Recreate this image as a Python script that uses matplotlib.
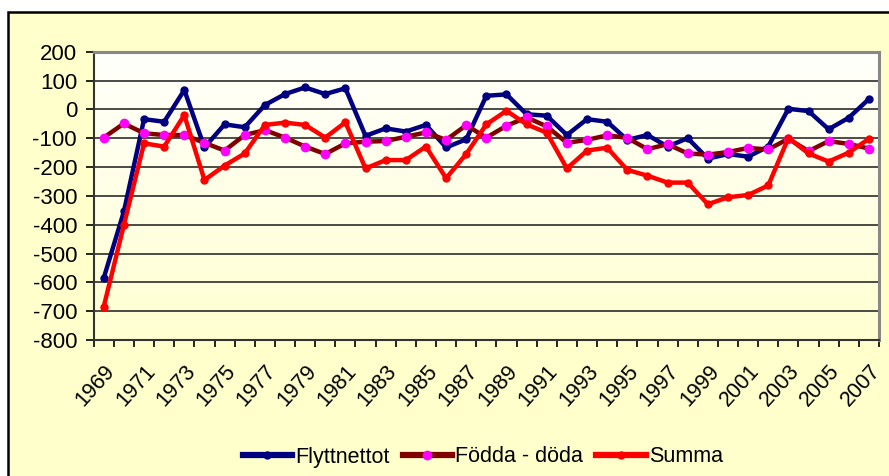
import numpy as np
import matplotlib
matplotlib.use("Agg")
import matplotlib.pyplot as plt
from matplotlib.patches import Rectangle

years = list(range(1969, 2008))
flyttnettot = [-585, -354, -34, -43, 67, -132, -52, -62, 15, 53,
               76, 53, 73, -92, -66, -77, -54, -132, -104, 47,
               52, -17, -22, -89, -34, -43, -106, -89, -129, -100,
               -171, -155, -164, -129, 2, -6, -69, -29, 36]
fodda_doda = [-98, -49, -83, -89, -89, -116, -143, -89, -72, -98,
              -129, -155, -118, -112, -110, -95, -80, -106, -55, -98,
              -57, -28, -59, -116, -106, -90, -99, -138, -121, -153,
              -157, -148, -134, -139, -102, -145, -110, -120, -136]
summa = [-684, -401, -118, -129, -20, -245, -195, -153, -54, -46,
         -54, -98, -45, -205, -176, -176, -129, -239, -155, -52,
         -5, -52, -81, -205, -143, -133, -210, -230, -254, -254,
         -329, -305, -297, -264, -99, -153, -181, -150, -102]
series_names = ["Flyttnettot", "Födda - döda", "Summa"]
yticks = list(range(-800, 201, 100))

plt.rcParams['font.family'] = ['Liberation Sans', 'DejaVu Sans']

W, H = 889, 476
fig = plt.figure(figsize=(W / 100, H / 100), dpi=100)
fig.patch.set_facecolor('white')

# chart area background (own axes, drawn beneath)
bg = fig.add_axes([0, 0, 1, 1], zorder=-10)
bg.set_axis_off()
bg.set_xlim(0, 1)
bg.set_ylim(0, 1)
bg.add_patch(Rectangle((8 / W, -0.1), 1.2, 1 - 12 / H + 0.1,
                       facecolor='#FFFFCC', edgecolor='black', linewidth=1.8))

left, right, top, bottom = 93.7, 879, 51.7, 340
ax = fig.add_axes([left / W, 1 - bottom / H, (right - left) / W, (bottom - top) / H], zorder=1)
ax.set_facecolor('none')

# gradient plot area
grad = np.linspace(0, 1, 256).reshape(-1, 1)
c_top = np.array([1.0, 1.0, 0.985])
c_bot = np.array([1.0, 1.0, 0.82])
img = c_top[None, None, :] * (1 - grad[:, :, None]) + c_bot[None, None, :] * grad[:, :, None]
ax.imshow(img, extent=[0, 1, 0, 1], transform=ax.transAxes, aspect='auto', zorder=0)

x = np.arange(len(years))
ax.set_xlim(-0.5, len(years) - 0.5)
ax.set_ylim(-800, 200)

for yv in yticks[1:]:
    ax.axhline(yv, color='#1a1a1a', linewidth=1.1, zorder=1)

ax.plot(x, flyttnettot, color='#000080', linewidth=3.2, marker='o', markersize=5,
        markerfacecolor='#000080', markeredgecolor='#000080', label=series_names[0], zorder=3)
ax.plot(x, fodda_doda, color='#800000', linewidth=3.2, marker='o', markersize=6,
        markerfacecolor='#FF00FF', markeredgecolor='#FF00FF', label=series_names[1], zorder=3)
ax.plot(x, summa, color='#FF0000', linewidth=3.2, marker='o', markersize=5,
        markerfacecolor='#FF0000', markeredgecolor='#FF0000', label=series_names[2], zorder=4)

ax.set_yticks(yticks)
ax.set_yticklabels([str(v) for v in yticks], fontsize=16)
ax.tick_params(axis='y', direction='out', length=6, width=1.2, color='black', pad=6)

ax.set_xticks(x[::2])
ax.set_xticklabels([str(y) for y in years[::2]], fontsize=15.5, rotation=48,
                   ha='right', va='top', rotation_mode='anchor')
ax.tick_params(axis='x', which='major', length=0, pad=15)
ax.set_xticks(np.arange(-0.5, len(years), 1), minor=True)
ax.tick_params(axis='x', which='minor', direction='out', length=5, width=1.2, color='black')

for s in ['left', 'bottom']:
    ax.spines[s].set_color('#333333')
    ax.spines[s].set_linewidth(1.5)
for s in ['top', 'right']:
    ax.spines[s].set_color('#888888')
    ax.spines[s].set_linewidth(2.2)

leg = fig.legend(loc='center', bbox_to_anchor=(0.543, 1 - 457 / H), ncol=3, frameon=False,
                 fontsize=15.5, handlelength=2.3, handletextpad=0.15, columnspacing=0.6)
for h in leg.legend_handles:
    h.set_linewidth(4.5)

fig.savefig('out.png', dpi=100)
